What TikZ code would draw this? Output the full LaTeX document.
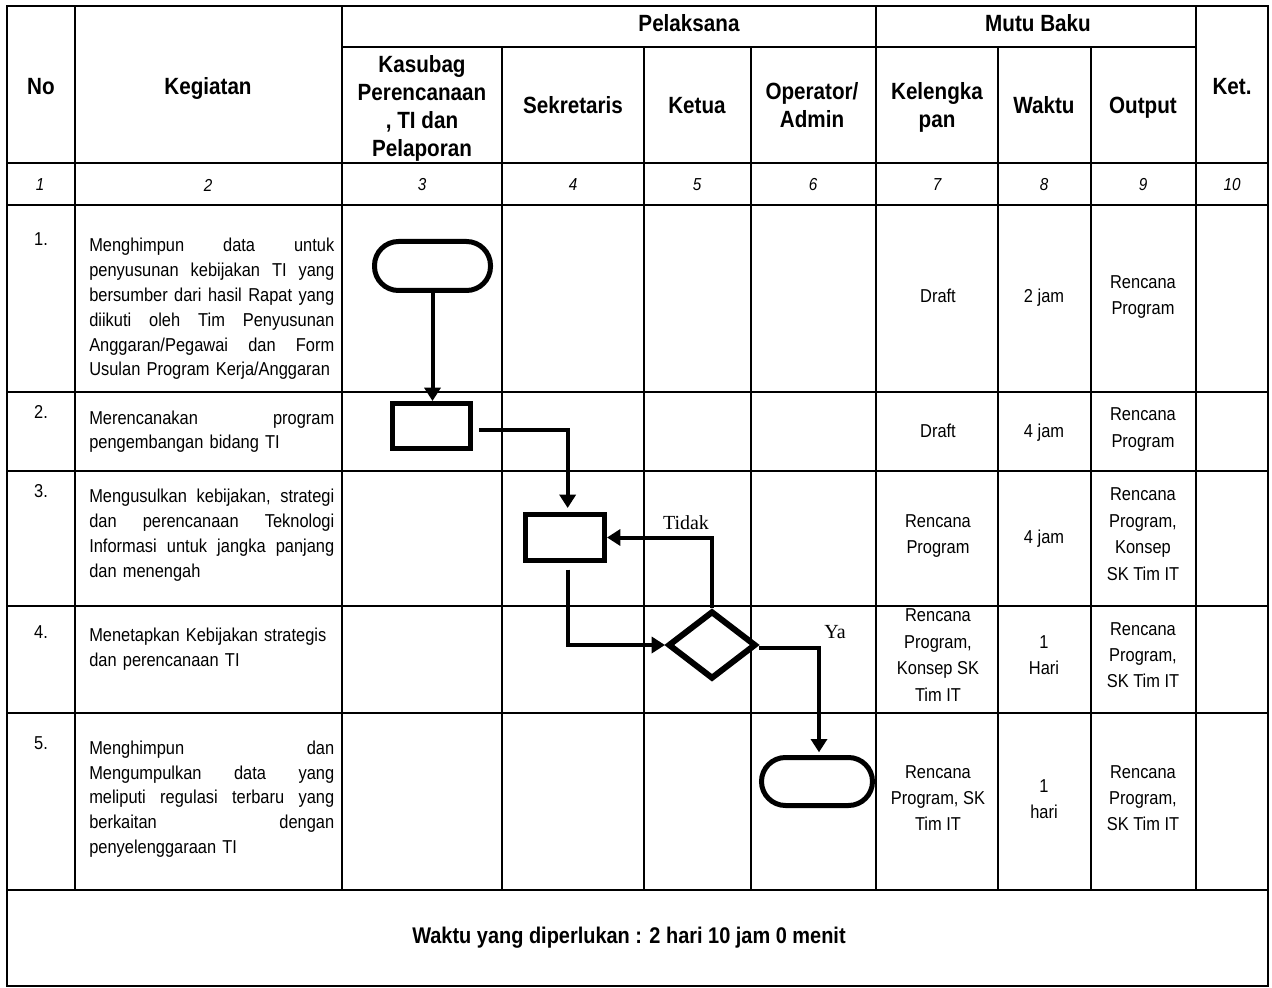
\documentclass[tikz,border=0pt]{standalone}
\usepackage{fontspec}
\setmainfont{Liberation Sans}[FakeStretch=0.88]
\newfontfamily\serifTL{Liberation Serif}
\usetikzlibrary{arrows.meta,shapes.geometric,calc}
\newcommand\jl[1]{\makebox[183.75pt]{#1}}
\begin{document}
\begin{tikzpicture}[x=0.75pt,y=-0.75pt,
  gthin/.style={line width=1.1pt},
  gmid/.style={line width=1.6pt},
  gthick/.style={line width=2.2pt},
  hdr/.style={font=\fontsize{17.6}{21}\selectfont\bfseries, align=center, inner sep=0pt,
    execute at begin node=\strut, execute at end node=\strut},
  numc/.style={font=\fontsize{13}{15}\selectfont\itshape, inner sep=0pt},
  cell/.style={font=\fontsize{14}{19.8}\selectfont, align=center, inner sep=0pt,
    execute at begin node=\strut, execute at end node=\strut},
  keg/.style={font=\fontsize{14}{18.6}\selectfont, text width=183.75pt, align=left,
    inner sep=0pt, anchor=west, execute at begin node=\strut, execute at end node=\strut},
  nolbl/.style={font=\fontsize{14}{16}\selectfont, inner sep=0pt},
  shp/.style={draw, line width=3.75pt, inner sep=0pt},
  term/.style={shp, rectangle, rounded corners=18pt},
  conn/.style={line width=3pt, -{Triangle[length=10pt,width=12pt]}},
  lbl/.style={font=\serifTL\fontsize{15}{17}\selectfont, inner sep=0pt}
]
\useasboundingbox (0,0) rectangle (1272,988);
% grid
\draw[gthick] (7,6) rectangle (1268,986);
\draw[gmid] (342,47) -- (1196,47);
\draw[gthin] (7,163) -- (1268,163);
\draw[gthick] (7,205) -- (1268,205);
\draw[gthin] (7,392) -- (1268,392);
\draw[gthick] (7,471) -- (1268,471);
\draw[gmid] (7,606) -- (1268,606);
\draw[gthick] (7,713) -- (1268,713);
\draw[gmid] (7,890) -- (1268,890);
\draw[gthick] (75,6) -- (75,890);
\draw[gthin] (342,6) -- (342,890);
\draw[gthin] (502,47) -- (502,890);
\draw[gmid] (644,47) -- (644,890);
\draw[gmid] (751,47) -- (751,890);
\draw[gmid] (876,6) -- (876,890);
\draw[gmid] (998,47) -- (998,890);
\draw[gmid] (1091,47) -- (1091,890);
\draw[gmid] (1196,6) -- (1196,890);
% headers
\node[hdr] (hPel) at (689,26) {Pelaksana};
\node[hdr] (hMutu) at (1038,26) {Mutu Baku};
\node[hdr] (hNo) at (41,89) {No};
\node[hdr] (hKeg) at (208,89) {Kegiatan};
\node[hdr] (hKas) at (422,110) {Kasubag\\Perencanaan\\, TI dan\\Pelaporan};
\node[hdr] (hSek) at (573,108) {Sekretaris};
\node[hdr] (hKet) at (697,108) {Ketua};
\node[hdr] (hOp) at (812,109) {Operator/\\Admin};
\node[hdr] (hKel) at (937,109) {Kelengka\\pan};
\node[hdr] (hWak) at (1044,108) {Waktu};
\node[hdr] (hOut) at (1143,108) {Output};
\node[hdr] (hKt) at (1232,89) {Ket.};
% number row
\node[numc] (n1) at (40,185) {1};
\node[numc] (n2) at (208,185) {2};
\node[numc] (n3) at (422,185) {3};
\node[numc] (n4) at (573,185) {4};
\node[numc] (n5) at (697,185) {5};
\node[numc] (n6) at (813,185) {6};
\node[numc] (n7) at (937,185) {7};
\node[numc] (n8) at (1044,185) {8};
\node[numc] (n9) at (1143,185) {9};
\node[numc] (n10) at (1232,185) {10};
% row numbers
\node[nolbl] (r1) at (41,239) {1.};
\node[nolbl] (r2) at (41,412) {2.};
\node[nolbl] (r3) at (41,491) {3.};
\node[nolbl] (r4) at (41,632) {4.};
\node[nolbl] (r5) at (41,743) {5.};
% kegiatan
\node[keg] (k1) at (89,309) {\jl{Menghimpun\hfill data\hfill untuk}\\\jl{penyusunan\hfill kebijakan\hfill TI\hfill yang}\\\jl{bersumber\hfill dari\hfill hasil\hfill Rapat\hfill yang}\\\jl{diikuti\hfill oleh\hfill Tim\hfill Penyusunan}\\\jl{Anggaran/Pegawai\hfill dan\hfill Form}\\Usulan Program Kerja/Anggaran};
\node[keg] (k2) at (89,431.5) {\jl{Merencanakan\hfill program}\\pengembangan bidang TI};
\node[keg] (k3) at (89,535) {\jl{Mengusulkan\hfill kebijakan,\hfill strategi}\\\jl{dan\hfill perencanaan\hfill Teknologi}\\\jl{Informasi\hfill untuk\hfill jangka\hfill panjang}\\dan menengah};
\node[keg] (k4) at (89,649) {Menetapkan Kebijakan strategis\\dan perencanaan TI};
\node[keg] (k5) at (89,799) {\jl{Menghimpun\hfill dan}\\\jl{Mengumpulkan\hfill data\hfill yang}\\\jl{meliputi\hfill regulasi\hfill terbaru\hfill yang}\\\jl{berkaitan\hfill dengan}\\penyelenggaraan TI};
% mutu baku cells
\node[cell] (c71) at (938,297) {Draft};
\node[cell] (c81) at (1044,297) {2 jam};
\node[cell] (c91) at (1143,299) {Rencana\\Program};
\node[cell] (c72) at (938,432) {Draft};
\node[cell] (c82) at (1044,432) {4 jam};
\node[cell] (c92) at (1143,431.5) {Rencana\\Program};
\node[cell] (c73) at (938,538) {Rencana\\Program};
\node[cell] (c83) at (1044,538) {4 jam};
\node[cell] (c93) at (1143,538) {Rencana\\Program,\\Konsep\\SK Tim IT};
\node[cell] (c74) at (938,659) {Rencana\\Program,\\Konsep SK\\Tim IT};
\node[cell] (c84) at (1044,659) {1\\Hari};
\node[cell] (c94) at (1143,659) {Rencana\\Program,\\SK Tim IT};
\node[cell] (c75) at (938,802) {Rencana\\Program, SK\\Tim IT};
\node[cell] (c85) at (1044,803) {1\\hari};
\node[cell] (c95) at (1143,802) {Rencana\\Program,\\SK Tim IT};
% footer
\node[font=\fontsize{17}{19}\selectfont\bfseries, inner sep=0pt] (foot) at (629,938) {Waktu yang diperlukan : 2 hari 10 jam 0 menit};
% flowchart
\node[term, minimum width=87pt, minimum height=36.75pt] (t1) at (432.5,266) {};
\node[shp, rectangle, minimum width=58.5pt, minimum height=33.75pt] (b2) at (431.5,426) {};
\node[shp, rectangle, minimum width=59.25pt, minimum height=34.5pt] (b3) at (565,537.5) {};
\node[shp, diamond, line width=4.5pt, minimum width=66pt, minimum height=51pt] (d4) at (712,645) {};
\node[term, minimum width=83.25pt, minimum height=36pt] (t5) at (817,781.5) {};
\draw[conn] (t1.south) -- (t1.south |- b2.north);
\draw[conn] ([xshift=4.5pt,yshift=-3pt]b2.east) -| ([xshift=2pt,yshift=3pt]b3.north);
\draw[conn] (d4.north) |- (b3.east);
\draw[conn] ([xshift=2pt,yshift=-5pt]b3.south) |- (d4.west);
\draw[conn] ([yshift=-2pt]d4.east) -| ([xshift=1.5pt,yshift=2pt]t5.north);
\node[lbl] (lTidak) at (686,523) {Tidak};
\node[lbl] (lYa) at (835,632) {Ya};
\end{tikzpicture}
\end{document}
